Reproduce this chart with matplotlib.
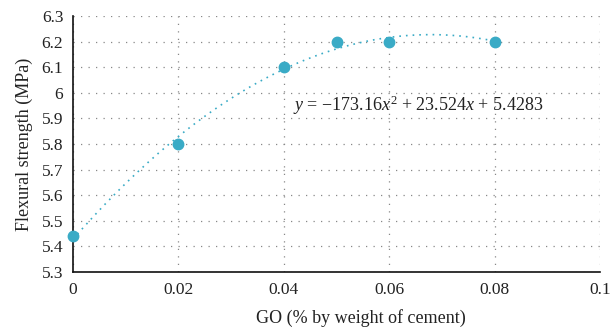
import numpy as np
import matplotlib.pyplot as plt

plt.rcParams['font.family'] = ['Liberation Serif', 'DejaVu Serif']
plt.rcParams['mathtext.fontset'] = 'custom'
plt.rcParams['mathtext.it'] = 'Liberation Serif:italic'
plt.rcParams['mathtext.rm'] = 'Liberation Serif'

# GO content vs flexural strength
go = [0, 0.02, 0.04, 0.05, 0.06, 0.08]
strength = [5.44, 5.8, 6.1, 6.2, 6.2, 6.2]

# quadratic trendline coefficients (a, b, c)
coef = [-173.16, 23.524, 5.4283]

x_ticks = [0, 0.02, 0.04, 0.06, 0.08, 0.1]
x_tick_labels = ['0', '0.02', '0.04', '0.06', '0.08', '0.1']
y_ticks = [5.3, 5.4, 5.5, 5.6, 5.7, 5.8, 5.9, 6.0, 6.1, 6.2, 6.3]
y_tick_labels = ['5.3', '5.4', '5.5', '5.6', '5.7', '5.8', '5.9', '6', '6.1', '6.2', '6.3']

color = '#3aabc6'

fig = plt.figure(figsize=(6.11, 3.30), dpi=100)
ax = fig.add_axes([0.1195, 0.1758, 0.8625, 0.7757])

xs = np.linspace(go[0], go[-1], 200)
ax.plot(xs, np.polyval(coef, xs), linestyle=(0, (1, 3)), color=color, lw=1.2)
ax.plot(go, strength, 'o', color=color, markersize=7.5, zorder=3, clip_on=False)

ax.set_xlim(0, 0.1)
ax.set_ylim(5.3, 6.3)
ax.set_xticks(x_ticks)
ax.set_xticklabels(x_tick_labels)
ax.set_yticks(y_ticks)
ax.set_yticklabels(y_tick_labels)
ax.tick_params(length=0, labelsize=12.5, colors='#222222', pad=7)
ax.grid(True, color='#888888', linestyle=(0, (1, 5)), lw=0.9)
for s in ['top', 'right']:
    ax.spines[s].set_visible(False)
for s in ['left', 'bottom']:
    ax.spines[s].set_linewidth(1.2)
    ax.spines[s].set_color('#111111')

ax.set_xlabel('GO (% by weight of cement)', fontsize=13, color='#222222', labelpad=8, x=0.547)
ax.set_ylabel('Flexural strength (MPa)', fontsize=13, color='#222222', labelpad=6)

eq = '$y$ = \u2212173.16$x^2$ + 23.524$x$ + 5.4283'
ax.text(0.0418, 5.95, eq, fontsize=13, color='#222222', va='center')

fig.savefig('out.png', dpi=100)
